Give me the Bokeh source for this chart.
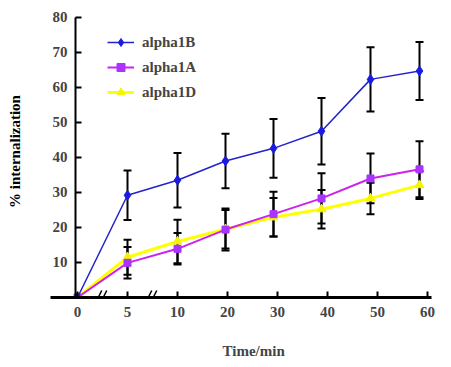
from bokeh.plotting import figure
from bokeh.models import (Range1d, FixedTicker, ColumnDataSource, Whisker, TeeHead,
                          Title, LinearAxis)
from bokeh.embed import file_html
from bokeh.resources import INLINE

# ---- data ----
tick_minutes = [0, 5, 10, 20, 30, 40, 50, 60]
time_min = [0, 5, 10, 19.6, 29.2, 38.8, 48.6, 58.4]
alpha1B = [0, 29.2, 33.5, 39.0, 42.6, 47.5, 62.3, 64.7]
alpha1B_err = [0, 7.1, 7.8, 7.8, 8.4, 9.5, 9.2, 8.3]
alpha1A = [0, 9.9, 13.9, 19.4, 23.8, 28.3, 34.0, 36.6]
alpha1A_err = [0, 4.5, 4.5, 6.0, 6.4, 7.2, 7.1, 8.0]
alpha1D = [0, 11.5, 16.0, 19.5, 22.9, 25.2, 28.3, 32.1]
alpha1D_err = [0, 5.0, 6.2, 5.5, 5.5, 5.5, 4.5, 4.0]
y_ticks = [10, 20, 30, 40, 50, 60, 70, 80]
break_minutes = [2.5, 7.5]


def brk(t):
    # broken axis: 0-5 and 5-10 segments drawn as wide as 10 minutes each
    return t if t >= 10 else 2 * t - 10


FONT = "Liberation Serif"

p = figure(width=451, height=367, output_backend="svg", toolbar_location=None,
           x_range=Range1d(-18.2, 63.6), y_range=Range1d(0, 83.4),
           min_border_left=36, min_border_right=6, min_border_top=5,
           min_border_bottom=68)
p.grid.visible = False
p.outline_line_color = None
p.background_fill_color = "white"

xs = [brk(t) for t in time_min]

series = [
    ("alpha1B", alpha1B, alpha1B_err, "#2222cc", "#1a1ae0", "diamond", 10, 1.5),
    ("alpha1A", alpha1A, alpha1A_err, "#cc22ee", "#aa33ff", "square", 7, 2),
    ("alpha1D", alpha1D, alpha1D_err, "#ffff00", "#f5f500", "triangle", 9, 3),
]

for name, ys, errs, lc, mc, marker, ms, lw in series[::-1]:
    src = ColumnDataSource(dict(x=xs, y=ys))
    p.line("x", "y", source=src, line_color=lc, line_width=lw, legend_label=name)
    p.scatter("x", "y", source=src, marker=marker, size=ms, fill_color=mc,
              line_color=mc, legend_label=name)

for name, ys, errs, lc, mc, marker, ms, lw in series:
    wx = [x for x, e in zip(xs, errs) if e > 0]
    wu = [y + e for y, e in zip(ys, errs) if e > 0]
    wl = [y - e for y, e in zip(ys, errs) if e > 0]
    wsrc = ColumnDataSource(dict(x=wx, upper=wu, lower=wl))
    w = Whisker(source=wsrc, base="x", upper="upper", lower="lower",
                line_color="black", line_width=2,
                upper_head=TeeHead(size=8, line_width=2, line_color="black"),
                lower_head=TeeHead(size=8, line_width=2, line_color="black"))
    p.add_layout(w)

# axis break marks "//"
bx0, by0, bx1, by1 = [], [], [], []
for t in break_minutes:
    for d in (-0.5, 0.5):
        bx0.append(brk(t) + d - 0.35)
        by0.append(0)
        bx1.append(brk(t) + d + 0.35)
        by1.append(2.0)
p.segment(x0=bx0, y0=by0, x1=bx1, y1=by1, line_color="black", line_width=1.5)

# x axis (bottom panel)
xa = p.xaxis[0]
xa.bounds = (-15.4, 60.8)
xa.ticker = FixedTicker(ticks=[brk(t) for t in tick_minutes])
xa.major_label_overrides = {brk(t): str(t) for t in tick_minutes}
xa.minor_tick_line_color = None
xa.major_tick_in = 6
xa.major_tick_out = 0
xa.major_tick_line_width = 2
xa.axis_line_width = 3
xa.major_label_standoff = 9
xa.major_label_text_font = FONT
xa.major_label_text_font_style = "bold"
xa.major_label_text_font_size = "15px"

# spacer between tick labels and the x title
spacer = LinearAxis(ticker=FixedTicker(ticks=[]), axis_line_color=None,
                    major_tick_line_color=None, minor_tick_line_color=None,
                    major_tick_in=0, major_tick_out=0, minor_tick_out=0,
                    major_label_standoff=0, major_label_text_font_size="0px",
                    axis_label=" ", axis_label_text_font_size="1px",
                    axis_label_standoff=9)
p.add_layout(spacer, "below")

# y axis (drawn at the left edge of the 0 column)
ya = p.yaxis[0]
ya.fixed_location = -10.4
ya.bounds = (0, 80)
ya.ticker = FixedTicker(ticks=y_ticks)
ya.minor_tick_line_color = None
ya.major_tick_in = 6
ya.major_tick_out = 0
ya.major_tick_line_width = 2
ya.axis_line_width = 2
ya.major_label_standoff = 8
ya.major_label_text_font = FONT
ya.major_label_text_font_style = "bold"
ya.major_label_text_font_size = "15px"

# y axis title carried by a tick-less axis in the left panel
ylab = LinearAxis(axis_label="% internalization", ticker=FixedTicker(ticks=[]),
                  axis_line_color=None,
                  major_tick_line_color=None, minor_tick_line_color=None,
                  major_tick_in=0, major_tick_out=0, minor_tick_out=0,
                  major_label_text_font_size="0px", axis_label_standoff=14,
                  axis_label_text_font=FONT, axis_label_text_font_style="bold",
                  axis_label_text_font_size="15px", axis_label_text_color="black")
p.add_layout(ylab, "left")

p.add_layout(Title(text="Time/min", align="left", offset=186, standoff=17,
                   text_font=FONT, text_font_style="bold", text_font_size="15px"),
             "below")

lg = p.legend[0]
lg.location = (71, 195)
lg.padding = 0
lg.margin = 0
lg.spacing = 5
lg.glyph_width = 27
lg.glyph_height = 20
lg.label_height = 20
lg.label_standoff = 8
lg.border_line_color = None
lg.background_fill_alpha = 0
lg.label_text_font = FONT
lg.label_text_font_style = "bold"
lg.label_text_font_size = "15px"
lg.items = lg.items[::-1]

open("out.html", "w").write(file_html(p, INLINE))
